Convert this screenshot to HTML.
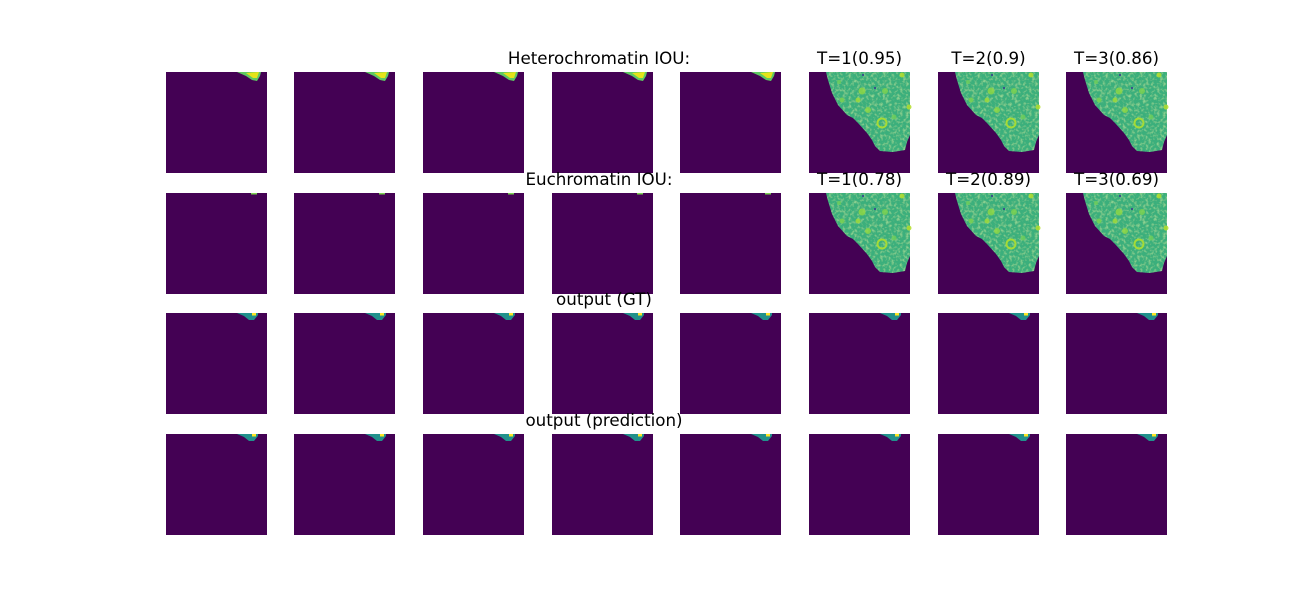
<!DOCTYPE html>
<html><head><meta charset="utf-8"><style>
body{margin:0;background:#fff;width:1300px;height:600px;overflow:hidden}
svg text{font-family:"DejaVu Sans","Liberation Sans",sans-serif;font-size:16.7px;fill:#000}
</style></head><body>
<svg id="fig" width="1300" height="600" xmlns="http://www.w3.org/2000/svg">
<defs>
<filter id="mottle" x="0" y="0" width="100%" height="100%">
<feTurbulence type="fractalNoise" baseFrequency="0.35" numOctaves="2" seed="3" result="n"/>
<feColorMatrix in="n" type="matrix" values="0 0 0 0 0.45  0 0 0 0 0.82  0 0 0 0 0.35  0 0 0 1.6 -0.75" result="c"/>
<feComposite in="c" in2="SourceGraphic" operator="in" result="m"/>
<feMerge><feMergeNode in="SourceGraphic"/><feMergeNode in="m"/></feMerge>
</filter>
</defs>
</svg>
<script>
const colX = [166, 294, 423, 552, 680, 809, 938, 1066];
const rowY = [72, 193, 313, 434];
const rowTitles = ["Heterochromatin IOU:", "Euchromatin IOU:", "output (GT)", "output (prediction)"];
const rowTitleX = [599, 599, 604, 604];
const heteroLabels = ["T=1(0.95)", "T=2(0.9)", "T=3(0.86)"];
const euchroLabels = ["T=1(0.78)", "T=2(0.89)", "T=3(0.69)"];
const S = 101;
const NS = "http://www.w3.org/2000/svg";
const svg = document.getElementById('fig');
function mk(tag, attrs, parent){const e=document.createElementNS(NS,tag);for(const k in attrs)e.setAttribute(k,attrs[k]);(parent||svg).appendChild(e);return e;}
const cellPath = "M17,0 L19,8 L23,21 L29,33 L38,43 L44,46 L49,51 L58,61 L63,68 L66,74 L71,79 L84,80 L96,78 L98,70 L101,63 L101,0 Z";
const spots = [[53,19,3.5,'#8dd645'],[49,28,2.5,'#9fd93a'],[59,38,3,'#8dd645'],[76,19,3,'#7ad151'],[93,3,2.5,'#b5de2b'],[33,28,2.5,'#7ad151'],[100,35,2.5,'#b5de2b'],[30,10,2,'#6ccd5a'],[85,45,2.5,'#6ccd5a']];
for(let r=0;r<4;r++){
  const t = mk('text',{x:rowTitleX[r],y:rowY[r]-8,'text-anchor':'middle'});
  
  
  t.textContent = rowTitles[r];
  for(let c=0;c<8;c++){
    const g = mk('g',{transform:`translate(${colX[c]},${rowY[r]})`});
    
    
    mk('rect',{x:0,y:0,width:S,height:S,fill:'#440154'},g);
    if(r<2 && c>=5){
      mk('path',{d:cellPath,fill:'#3aaf7c',filter:'url(#mottle)'},g);
      for(const s of spots){mk('circle',{cx:s[0],cy:s[1],r:s[2],fill:s[3],opacity:0.85},g);}
      mk('circle',{cx:73,cy:51,r:4.5,fill:'none',stroke:'#a5db36','stroke-width':2},g);
      mk('rect',{x:53,y:2,width:2,height:2,fill:'#3b528b'},g);
      mk('rect',{x:65,y:15,width:2,height:2,fill:'#3b528b'},g);
    } else if(r===0){
      mk('path',{d:"M71,0 L80,4 L86,8 L91,9 L94,4 L95,0 Z",fill:'#5ec962'},g);
      mk('path',{d:"M80,1 L87,6 L91,6 L93,0 Z",fill:'#e5e419'},g);
    } else if(r===1){
      mk('rect',{x:85,y:0,width:6,height:1.5,fill:'#7ad151'},g);
    } else {
      mk('path',{d:"M71,0 L78,3 L83,7 L88,7 L92,2 L92,0 Z",fill:'#21918c'},g);
      mk('rect',{x:86,y:0,width:4,height:2.5,fill:'#fde725'},g);
    }
    if(r<2 && c>=5){
      const lab = mk('text',{x:colX[c]+S/2,y:rowY[r]-8,'text-anchor':'middle'});
      
      
      lab.textContent = (r===0?heteroLabels:euchroLabels)[c-5];
    }
  }
}
</script>
</body></html>
